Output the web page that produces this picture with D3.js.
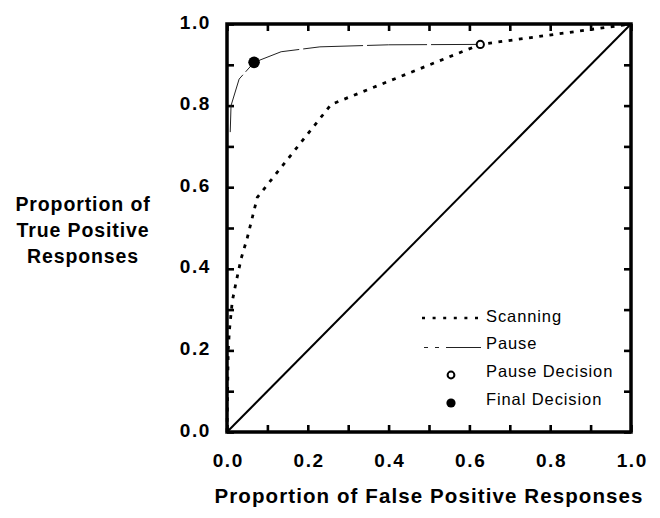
<!DOCTYPE html>
<html lang="en">
<head>
    <meta charset="UTF-8">
    <title>ROC curves - Scanning vs Pause</title>
    <style>
        body {
            margin: 0;
            padding: 0;
            background: #fff;
        }
        svg {
            display: block;
            font-family: "Liberation Sans", Arial, sans-serif;
        }
        .tick-label {
            font-size: 19px;
            font-weight: bold;
            letter-spacing: 1.6px;
        }
        .axis-title {
            font-size: 19.5px;
            font-weight: bold;
            letter-spacing: 0.9px;
        }
        .legend-text {
            font-size: 16.5px;
            letter-spacing: 0.9px;
        }
    </style>
</head>
<body>
    <div id="chart"></div>

    <script src="https://cdnjs.cloudflare.com/ajax/libs/d3/7.8.5/d3.min.js"></script>
    <script>
        // values
        const scanFP = [0, 0.003, 0.006, 0.013, 0.022, 0.035, 0.05, 0.063, 0.075, 0.258, 0.627, 1.0];
        const scanTP = [0, 0.20, 0.25, 0.32, 0.365, 0.425, 0.475, 0.527, 0.575, 0.803, 0.95, 1.0];

        const pauseFP = [0.008, 0.010, 0.030, 0.067, 0.134, 0.230, 0.400, 0.627];
        const pauseTP = [0.735, 0.800, 0.865, 0.906, 0.932, 0.944, 0.949, 0.950];

        const pauseDecision = [0.627, 0.950];
        const finalDecision = [0.067, 0.906];

        const tickValues = [0, 0.1, 0.2, 0.3, 0.4, 0.5, 0.6, 0.7, 0.8, 0.9, 1.0];
        const labelValues = [0, 0.2, 0.4, 0.6, 0.8, 1.0];

        const legendLabels = ["Scanning", "Pause", "Pause Decision", "Final Decision"];
        const yTitle = ["Proportion of", "True Positive", "Responses"];
        const xTitle = "Proportion of False Positive Responses";

        const width = 660;
        const height = 518;
        const plot = { left: 227, right: 631, top: 24, bottom: 432 };

        const svg = d3.select("#chart")
            .append("svg")
            .attr("width", width)
            .attr("height", height);

        const x = d3.scaleLinear().domain([0, 1]).range([plot.left, plot.right]);
        const y = d3.scaleLinear().domain([0, 1]).range([plot.bottom, plot.top]);

        const fmt = d => labelValues.some(v => Math.abs(v - d) < 1e-9) ? d3.format(".1f")(d) : "";

        // axes: ticks point inward, labels on bottom and left only
        const bottomAxis = svg.append("g")
            .attr("transform", `translate(0,${plot.bottom})`)
            .call(d3.axisBottom(x).tickValues(tickValues).tickSize(-7).tickFormat(fmt));
        const leftAxis = svg.append("g")
            .attr("transform", `translate(${plot.left},0)`)
            .call(d3.axisLeft(y).tickValues(tickValues).tickSize(-7).tickFormat(fmt));
        svg.append("g")
            .attr("transform", `translate(0,${plot.top})`)
            .call(d3.axisTop(x).tickValues(tickValues).tickSize(-7).tickFormat(""));
        svg.append("g")
            .attr("transform", `translate(${plot.right},0)`)
            .call(d3.axisRight(y).tickValues(tickValues).tickSize(-7).tickFormat(""));

        svg.selectAll(".domain").remove();
        svg.selectAll(".tick line")
            .attr("stroke", "#000")
            .attr("stroke-width", 2.6);

        bottomAxis.selectAll(".tick text")
            .attr("class", "tick-label")
            .attr("fill", "#000")
            .attr("y", 35)
            .attr("dy", null)
            .attr("dx", "0.8px");
        leftAxis.selectAll(".tick text")
            .attr("class", "tick-label")
            .attr("fill", "#000")
            .attr("x", -16)
            .attr("dy", "4px");

        // frame
        svg.append("rect")
            .attr("x", plot.left)
            .attr("y", plot.top)
            .attr("width", plot.right - plot.left)
            .attr("height", plot.bottom - plot.top)
            .attr("fill", "none")
            .attr("stroke", "#000")
            .attr("stroke-width", 3.5);

        // chance diagonal
        svg.append("line")
            .attr("x1", x(0)).attr("y1", y(0))
            .attr("x2", x(1)).attr("y2", y(1))
            .attr("stroke", "#000")
            .attr("stroke-width", 2);

        const line = d3.line()
            .x(d => x(d[0]))
            .y(d => y(d[1]));

        const scanData = scanFP.map((v, i) => [v, scanTP[i]]);
        const pauseData = pauseFP.map((v, i) => [v, pauseTP[i]]);

        svg.append("path")
            .datum(scanData)
            .attr("d", line)
            .attr("fill", "none")
            .attr("stroke", "#000")
            .attr("stroke-width", 2.8)
            .attr("stroke-dasharray", "3.8,6.5");

        svg.append("path")
            .datum(pauseData)
            .attr("d", line)
            .attr("fill", "none")
            .attr("stroke", "#222")
            .attr("stroke-width", 1)
            .attr("stroke-dasharray", "60,4");

        // decision points
        svg.append("circle")
            .attr("cx", x(pauseDecision[0]))
            .attr("cy", y(pauseDecision[1]))
            .attr("r", 3.6)
            .attr("fill", "#fff")
            .attr("stroke", "#000")
            .attr("stroke-width", 2);

        svg.append("circle")
            .attr("cx", x(finalDecision[0]))
            .attr("cy", y(finalDecision[1]))
            .attr("r", 5.8)
            .attr("fill", "#000");

        // legend
        const lg = svg.append("g");
        const textX = 486;

        lg.append("line")
            .attr("x1", 422).attr("x2", 484)
            .attr("y1", 318).attr("y2", 318)
            .attr("stroke", "#000")
            .attr("stroke-width", 2.6)
            .attr("stroke-dasharray", "3,7.6");
        lg.append("line")
            .attr("x1", 424).attr("x2", 481)
            .attr("y1", 347.5).attr("y2", 347.5)
            .attr("stroke", "#222")
            .attr("stroke-width", 1)
            .attr("stroke-dasharray", "4,7,4,7,40");
        lg.append("circle")
            .attr("cx", 451).attr("cy", 375)
            .attr("r", 3.4)
            .attr("fill", "#fff")
            .attr("stroke", "#000")
            .attr("stroke-width", 2);
        lg.append("circle")
            .attr("cx", 451).attr("cy", 403)
            .attr("r", 4.6)
            .attr("fill", "#000");

        const legendBase = [322, 349, 377, 405];
        lg.selectAll("text.legend-text")
            .data(legendLabels)
            .enter()
            .append("text")
            .attr("class", "legend-text")
            .attr("x", textX)
            .attr("y", (d, i) => legendBase[i])
            .text(d => d);

        // axis titles
        svg.append("text")
            .attr("class", "axis-title")
            .attr("x", (plot.left + plot.right) / 2)
            .attr("y", 503)
            .attr("text-anchor", "middle")
            .style("font-size", "20.5px")
            .style("letter-spacing", "1.1px")
            .text(xTitle);

        svg.selectAll("text.ytitle")
            .data(yTitle)
            .enter()
            .append("text")
            .attr("class", "axis-title ytitle")
            .attr("x", 83)
            .attr("y", (d, i) => 211 + i * 26)
            .attr("text-anchor", "middle")
            .text(d => d);
    </script>
</body>
</html>
